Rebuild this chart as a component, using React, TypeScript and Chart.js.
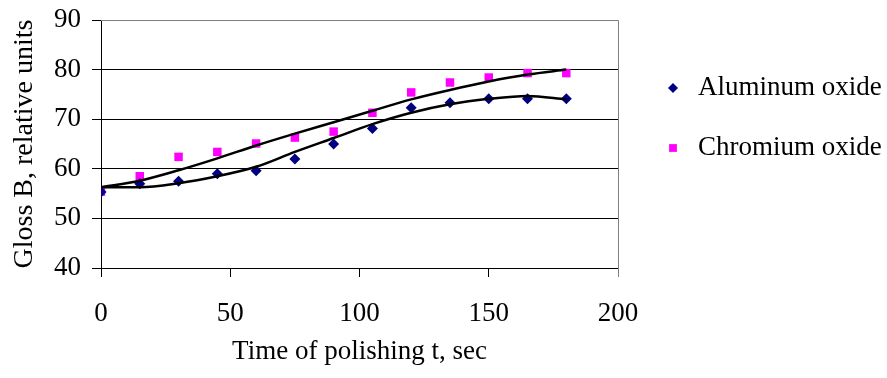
import React, { useEffect, useRef } from "react";
import { Chart, registerables } from "chart.js";

Chart.register(...registerables);

const times = [0, 15, 30, 45, 60, 75, 90, 105, 120, 135, 150, 165, 180];
const aluminum = [55.3, 57.0, 57.5, 59.0, 59.6, 62.0, 65.0, 68.1, 72.3, 73.3, 74.1, 74.1, 74.1];
const chromium = [55.4, 58.5, 62.4, 63.4, 65.1, 66.3, 67.5, 71.3, 75.4, 77.4, 78.4, 79.3, 79.3];
const aluminumTrend = [56.3, 56.3, 57.1, 58.5, 60.4, 63.4, 66.2, 69.0, 71.3, 73.0, 74.1, 74.7, 74.0];
const chromiumTrend = [56.3, 57.6, 59.7, 62.1, 64.7, 67.1, 69.4, 71.7, 74.0, 75.9, 77.6, 79.0, 80.0];
const seriesNames = ["Aluminum oxide", "Chromium oxide"];
const xTitle = "Time of polishing t, sec";
const yTitle = "Gloss B, relative units";

const FONT = "'Liberation Serif', 'Times New Roman', serif";
const FS = 27;
const NAVY = "#000080";
const MAGENTA = "#FF00FF";

const pts = (ys: number[]) => times.map((t, i) => ({ x: t, y: ys[i] }));

const framePlugin = {
  id: "frame",
  afterDraw(chart: any) {
    const { ctx, chartArea } = chart;
    ctx.save();
    ctx.strokeStyle = "#808080";
    ctx.lineWidth = 1;
    ctx.beginPath();
    ctx.moveTo(chartArea.left, chartArea.top + 0.5);
    ctx.lineTo(chartArea.right + 0.5, chartArea.top + 0.5);
    ctx.lineTo(chartArea.right + 0.5, chartArea.bottom + 9);
    ctx.stroke();
    ctx.restore();
  },
};

const legendPlugin = {
  id: "customLegend",
  afterDraw(chart: any) {
    const { ctx } = chart;
    const items = [
      { label: seriesNames[0], style: "rectRot", color: NAVY, y: 88, r: 5 },
      { label: seriesNames[1], style: "rect", color: MAGENTA, y: 148, r: 5.5 },
    ];
    const lx = 673;
    ctx.save();
    items.forEach((it) => {
      ctx.fillStyle = it.color;
      ctx.beginPath();
      if (it.style === "rectRot") {
        ctx.moveTo(lx - it.r, it.y);
        ctx.lineTo(lx, it.y - it.r);
        ctx.lineTo(lx + it.r, it.y);
        ctx.lineTo(lx, it.y + it.r);
      } else {
        const s = it.r * Math.SQRT1_2;
        ctx.rect(lx - s, it.y - s, 2 * s, 2 * s);
      }
      ctx.closePath();
      ctx.fill();
      ctx.fillStyle = "#000";
      ctx.font = `${FS}px ${FONT}`;
      ctx.textAlign = "left";
      ctx.textBaseline = "middle";
      ctx.fillText(it.label, 698, it.y);
    });
    ctx.restore();
  },
};

export default function App() {
  const ref = useRef<HTMLCanvasElement>(null);
  useEffect(() => {
    if (!ref.current) return;
    const chart = new Chart(ref.current, {
      type: "scatter",
      data: {
        datasets: [
          {
            label: seriesNames[0],
            data: pts(aluminum),
            pointStyle: "rectRot",
            pointRadius: 5.5,
            backgroundColor: NAVY,
            borderColor: NAVY,
            borderWidth: 0,
            order: 2,
          },
          {
            label: seriesNames[1],
            data: pts(chromium),
            pointStyle: "rect",
            pointRadius: 6,
            backgroundColor: MAGENTA,
            borderColor: MAGENTA,
            borderWidth: 0,
            order: 3,
          },
          {
            type: "line",
            label: "trend1",
            data: pts(aluminumTrend),
            showLine: true,
            pointRadius: 0,
            borderColor: "#000",
            borderWidth: 2.5,
            cubicInterpolationMode: "monotone",
            fill: false,
            order: 1,
          } as any,
          {
            type: "line",
            label: "trend2",
            data: pts(chromiumTrend),
            showLine: true,
            pointRadius: 0,
            borderColor: "#000",
            borderWidth: 2.5,
            cubicInterpolationMode: "monotone",
            fill: false,
            order: 1,
          } as any,
        ],
      },
      options: {
        animation: false,
        responsive: false,
        layout: { padding: { left: 0, top: 20, right: 269, bottom: 0 } },
        plugins: { legend: { display: false }, tooltip: { enabled: false } },
        scales: {
          x: {
            type: "linear",
            min: 0,
            max: 200,
            afterFit: (s: any) => {
              s.height = 110;
            },
            ticks: { stepSize: 50, color: "#000", font: { family: FONT, size: FS }, padding: 21 },
            grid: { drawOnChartArea: false, drawTicks: true, tickLength: 9, color: "#000", tickColor: "#000" },
            border: { color: "#000", width: 1 },
            title: { display: true, text: xTitle, color: "#000", font: { family: FONT, size: FS }, padding: { top: 0, bottom: 10 } },
          },
          y: {
            type: "linear",
            min: 40,
            max: 90,
            afterFit: (s: any) => {
              s.width = 101;
            },
            ticks: { stepSize: 10, color: "#000", font: { family: FONT, size: FS, lineHeight: 0.5 }, padding: 11 },
            grid: {
              color: (c: any) => (c.tick && c.tick.value === 90 ? "#808080" : "#000"),
              tickColor: "#000",
              tickLength: 9,
              drawTicks: true,
            },
            border: { color: "#000", width: 1 },
            title: { display: true, text: yTitle, color: "#000", font: { family: FONT, size: 28 }, padding: { top: 8, bottom: 0 } },
          },
        },
      },
      plugins: [framePlugin, legendPlugin],
    } as any);
    return () => chart.destroy();
  }, []);
  return (
    <div style={{ position: "fixed", left: 0, top: 0, width: 887, height: 378, background: "#fff" }}>
      <canvas ref={ref} width={887} height={378} style={{ display: "block" }} />
    </div>
  );
}
